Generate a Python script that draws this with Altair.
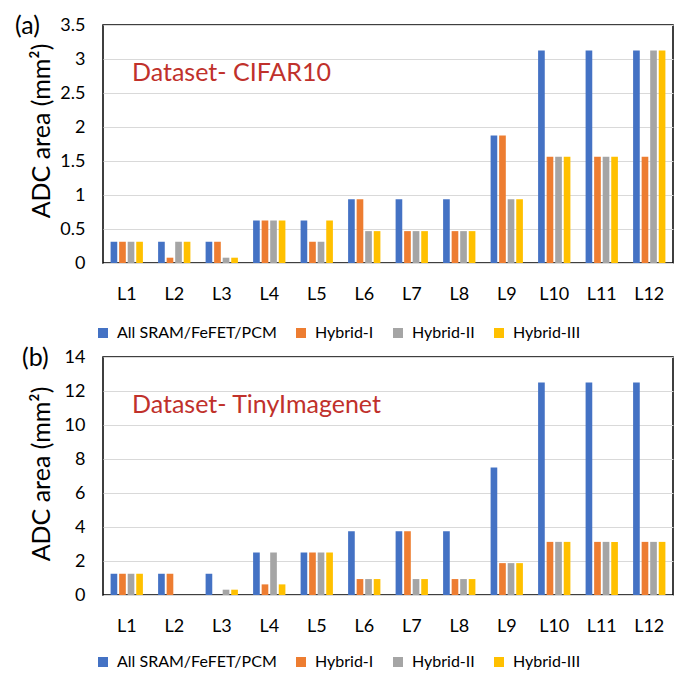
import altair as alt
import pandas as pd

FONT = "Lato"
RED = "#C0312B"

layers = [f"L{i}" for i in range(1, 13)]
series = ["All SRAM/FeFET/PCM", "Hybrid-I", "Hybrid-II", "Hybrid-III"]
colors = ["#4472C4", "#ED7D31", "#A5A5A5", "#FFC000"]

cifar_all = [0.3125, 0.3125, 0.3125, 0.625, 0.625, 0.9375, 0.9375, 0.9375, 1.875, 3.125, 3.125, 3.125]
cifar_h1 = [0.3125, 0.078, 0.3125, 0.625, 0.3125, 0.9375, 0.46875, 0.46875, 1.875, 1.5625, 1.5625, 1.5625]
cifar_h2 = [0.3125, 0.3125, 0.078, 0.625, 0.3125, 0.46875, 0.46875, 0.46875, 0.9375, 1.5625, 1.5625, 3.125]
cifar_h3 = [0.3125, 0.3125, 0.078, 0.625, 0.625, 0.46875, 0.46875, 0.46875, 0.9375, 1.5625, 1.5625, 3.125]

tiny_all = [1.25, 1.25, 1.25, 2.5, 2.5, 3.75, 3.75, 3.75, 7.5, 12.5, 12.5, 12.5]
tiny_h1 = [1.25, 1.25, 0, 0.625, 2.5, 0.9375, 3.75, 0.9375, 1.875, 3.125, 3.125, 3.125]
tiny_h2 = [1.25, 0, 0.3125, 2.5, 2.5, 0.9375, 0.9375, 0.9375, 1.875, 3.125, 3.125, 3.125]
tiny_h3 = [1.25, 0, 0.3125, 0.625, 2.5, 0.9375, 0.9375, 0.9375, 1.875, 3.125, 3.125, 3.125]

cifar_ticks = [0, 0.5, 1, 1.5, 2, 2.5, 3, 3.5]
tiny_ticks = [0, 2, 4, 6, 8, 10, 12, 14]
y_title = "ADC area (mm²)"


def panel(vals, ticks, tag, name, tag_x, legend_y, title_y):
    rows = []
    for s, arr in zip(series, vals):
        for l, v in zip(layers, arr):
            rows.append({"layer": l, "series": s, "value": v})
    df = pd.DataFrame(rows)
    bars = alt.Chart(df).mark_bar().encode(
        x=alt.X("layer:N", sort=layers, title=None,
                scale=alt.Scale(paddingInner=0.32, paddingOuter=0.16),
                axis=alt.Axis(labelAngle=0, ticks=False, domain=False, grid=False,
                              labelFontSize=18, labelFont=FONT, labelColor="black",
                              labelPadding=22)),
        xOffset=alt.XOffset("series:N", sort=series, scale=alt.Scale(paddingInner=0.22)),
        y=alt.Y("value:Q", scale=alt.Scale(domain=[ticks[0], ticks[-1]], nice=False),
                axis=alt.Axis(values=ticks, format="~g", title=None,
                              grid=True, gridColor="#d9d9d9", gridWidth=1.2,
                              domain=False, ticks=False,
                              labelFontSize=18, labelFont=FONT, labelColor="black",
                              labelPadding=18)),
        color=alt.Color("series:N", sort=series,
                        scale=alt.Scale(domain=series, range=colors),
                        legend=alt.Legend(title=None, orient="none", legendX=-8, legendY=legend_y,
                                          direction="horizontal", symbolType="square",
                                          symbolSize=100, symbolStrokeWidth=0,
                                          labelFontSize=16, labelFont=FONT, labelColor="black",
                                          labelLimit=0, labelOffset=6, columnPadding=16)),
    )
    name_txt = alt.Chart(pd.DataFrame({"t": [name]})).mark_text(
        align="left", baseline="middle", fontSize=25, font=FONT, color=RED
    ).encode(text="t:N", x=alt.value(29), y=alt.value(48))
    tag_txt = alt.Chart(pd.DataFrame({"t": [tag]})).mark_text(
        align="left", baseline="top", fontSize=25, font=FONT, color="black"
    ).encode(text="t:N", x=alt.value(tag_x), y=alt.value(-11))
    ytitle_txt = alt.Chart(pd.DataFrame({"t": [y_title]})).mark_text(
        align="center", baseline="middle", fontSize=25, font=FONT, color="black", angle=270
    ).encode(text="t:N", x=alt.value(-61), y=alt.value(title_y))
    return alt.layer(bars, name_txt, tag_txt, ytitle_txt).properties(width=570, height=238)


top = panel([cifar_all, cifar_h1, cifar_h2, cifar_h3], cifar_ticks, "(a)", "Dataset- CIFAR10",
            -88, 300, 106)
bottom = panel([tiny_all, tiny_h1, tiny_h2, tiny_h3], tiny_ticks, "(b)", "Dataset- TinyImagenet",
               -81, 297, 117)

chart = alt.vconcat(top, bottom, spacing=3).resolve_scale(
    color="independent"
).resolve_legend(color="independent").properties(
    padding={"left": 6, "top": 5, "right": 5, "bottom": 0}
).configure_view(stroke="black", strokeWidth=1.5)

chart.save("out.html", embed_options={"renderer": "svg", "actions": False})
